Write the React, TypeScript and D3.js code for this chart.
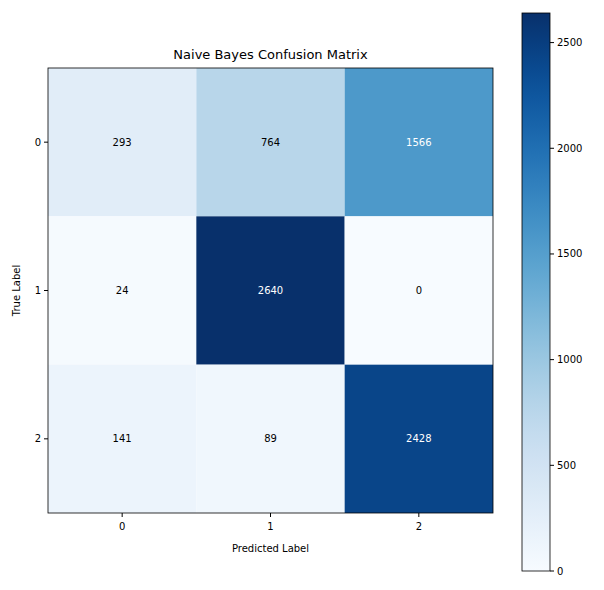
import React from "react";
import * as d3 from "d3";

const classes = ["0", "1", "2"];
const matrix = [
  [293, 764, 1566],
  [24, 2640, 0],
  [141, 89, 2428],
];
const cbTicks = [0, 500, 1000, 1500, 2000, 2500];

export default function App() {
  const W = 604, H = 590;
  const x0 = 48, y0 = 68, size = 445;
  const max = d3.max(matrix.flat()) as number;
  const band = d3.scaleBand().domain(classes).range([0, size]);
  const color = d3.scaleSequential(d3.interpolateBlues).domain([0, max]);
  const cbX = 522, cbW = 28, cbTop = 13, cbBot = 571;
  const cbY = d3.scaleLinear().domain([0, max]).range([cbBot, cbTop]);
  const stops = d3.range(0, 1.0001, 0.05);
  const font = "DejaVu Sans, sans-serif";
  return (
    <svg width={W} height={H} style={{ position: "absolute", left: 0, top: 0 }} fontFamily={font}>
      <defs>
        <linearGradient id="cb" x1="0" y1="1" x2="0" y2="0">
          {stops.map((s) => (
            <stop key={s} offset={s} stopColor={d3.interpolateBlues(s)} />
          ))}
        </linearGradient>
      </defs>
      <text x={x0 + size / 2} y={59} textAnchor="middle" fontSize={13}>Naive Bayes Confusion Matrix</text>
      {matrix.map((row, i) =>
        row.map((v, j) => (
          <g key={`${i}-${j}`}>
            <rect x={x0 + band(classes[j])!} y={y0 + band(classes[i])!} width={band.bandwidth()} height={band.bandwidth()} fill={color(v)} />
            <text x={x0 + band(classes[j])! + band.bandwidth() / 2} y={y0 + band(classes[i])! + band.bandwidth() / 2} dy="0.35em" textAnchor="middle" fontSize={10} fill={v > max / 2 ? "white" : "black"}>{v}</text>
          </g>
        ))
      )}
      <rect x={x0} y={y0} width={size} height={size} fill="none" stroke="black" strokeWidth={0.8} />
      {classes.map((c) => {
        const p = band(c)! + band.bandwidth() / 2;
        return (
          <g key={c}>
            <line x1={x0 + p} x2={x0 + p} y1={y0 + size} y2={y0 + size + 4} stroke="black" />
            <text x={x0 + p} y={y0 + size + 17} textAnchor="middle" fontSize={10}>{c}</text>
            <line x1={x0 - 4} x2={x0} y1={y0 + p} y2={y0 + p} stroke="black" />
            <text x={x0 - 7} y={y0 + p} dy="0.35em" textAnchor="end" fontSize={10}>{c}</text>
          </g>
        );
      })}
      <text x={x0 + size / 2} y={552} textAnchor="middle" fontSize={10}>Predicted Label</text>
      <text transform={`translate(20,${y0 + size / 2}) rotate(-90)`} textAnchor="middle" fontSize={10}>True Label</text>
      <rect x={cbX} y={cbTop} width={cbW} height={cbBot - cbTop} fill="url(#cb)" stroke="black" strokeWidth={0.8} />
      {cbTicks.map((t) => (
        <g key={t}>
          <line x1={cbX + cbW} x2={cbX + cbW + 4} y1={cbY(t)} y2={cbY(t)} stroke="black" />
          <text x={cbX + cbW + 7} y={cbY(t)} dy="0.35em" fontSize={10}>{t}</text>
        </g>
      ))}
    </svg>
  );
}
